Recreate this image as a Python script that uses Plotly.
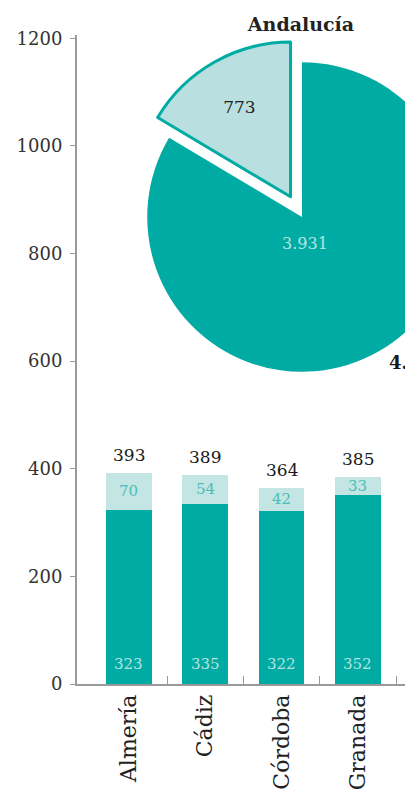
import plotly.graph_objects as go

# ---- data ----
provincias = ["Almería", "Cádiz", "Córdoba", "Granada"]
base_vals = [323, 335, 322, 352]
extra_vals = [70, 54, 42, 33]
pie_labels = ["Resto", "Destacado"]
pie_vals = [3931, 773]
y_ticks = [0, 200, 400, 600, 800, 1000, 1200]
titulo = "Andalucía"

DARK = "#00aba3"
LIGHT_BAR = "#c3e5e4"
LIGHT_PIE = "#b9dfe0"
SERIF = "DejaVu Serif"

W, H = 490, 791
L, T, B, R = 77, 35, 107, 0
PW, PH = W - L - R, H - T - B
XR = [-0.681, -0.681 + PW / 76.3]

def fmt(n):
    return f"{n:,}".replace(",", ".")

fig = go.Figure()

fig.add_trace(go.Bar(
    x=provincias, y=base_vals, marker=dict(color=DARK, line=dict(width=0)),
    hoverinfo="skip", showlegend=False,
))
fig.add_trace(go.Bar(
    x=provincias, y=extra_vals, marker=dict(color=LIGHT_BAR, line=dict(width=0)),
    hoverinfo="skip", showlegend=False,
))
# invisible helper trace for the separator ticks between categories
fig.add_trace(go.Scatter(x=[XR[0]], y=[0], xaxis="x2", mode="markers",
                         marker=dict(opacity=0), hoverinfo="skip", showlegend=False))

fig.add_trace(go.Pie(
    labels=pie_labels, values=pie_vals, sort=False, direction="clockwise", rotation=0,
    pull=[0, 0.15],
    marker=dict(colors=[DARK, LIGHT_PIE], line=dict(color=[DARK, DARK], width=[0, 3])),
    texttemplate=["", fmt(pie_vals[1])], textinfo="text",
    textposition="inside", insidetextorientation="horizontal",
    textfont=dict(family=SERIF, size=17, color="#222222"),
    domain=dict(x=[0.1138, 0.9758], y=[0.4453, 0.9938]),
    showlegend=False, hoverinfo="skip",
))

annotations = []
for p, b, e in zip(provincias, base_vals, extra_vals):
    tot = b + e
    annotations.append(dict(x=p, y=tot, xref="x", yref="y", text=str(tot), showarrow=False,
                            yanchor="bottom", yshift=6,
                            font=dict(family=SERIF, size=17, color="#1a1a1a")))
    annotations.append(dict(x=p, y=b + e / 2, xref="x", yref="y", text=str(e), showarrow=False,
                            yanchor="middle",
                            font=dict(family=SERIF, size=15, color="#4dbdb6")))
    annotations.append(dict(x=p, y=0, xref="x", yref="y", text=str(b), showarrow=False,
                            yanchor="bottom", yshift=9,
                            font=dict(family=SERIF, size=15, color="#b5e3df")))

# label of the large slice, just below the pie centre
annotations.append(dict(x=(305 - L) / PW, y=(H - B - 243) / PH,
                        xref="paper", yref="paper", xanchor="center", yanchor="middle",
                        text=fmt(pie_vals[0]), showarrow=False,
                        font=dict(family=SERIF, size=16, color="#b8e4e0")))
# total of the pie (partly outside the visible frame, as in the original)
annotations.append(dict(x=(387 - L) / PW, y=(H - B - 362) / PH,
                        xref="paper", yref="paper", xanchor="left", yanchor="middle",
                        text=fmt(sum(pie_vals)), showarrow=False,
                        font=dict(family=SERIF, size=18, color="#1a1a1a", weight=700)))

sep_ticks = [i + 0.5 for i in range(len(provincias))]

fig.update_layout(
    width=W, height=H,
    margin=dict(l=L, r=R, t=T, b=B, pad=0),
    paper_bgcolor="white", plot_bgcolor="white",
    barmode="stack", bargap=0.4,
    separators=",.",
    title=dict(text=titulo, x=301 / W, xanchor="center", xref="container",
               y=1 - 24 / H, yanchor="middle", yref="container",
               font=dict(family=SERIF, size=19, color="#222222", weight=700)),
    annotations=annotations,
    xaxis=dict(
        type="category", range=XR,
        showline=True, linecolor="#9a9a9a", linewidth=1.5,
        ticks="",
        tickangle=-90, tickfont=dict(family=SERIF, size=22, color="#222222"),
        showgrid=False, zeroline=False, fixedrange=True,
    ),
    xaxis2=dict(
        overlaying="x", anchor="y", side="bottom", range=XR,
        tickvals=sep_ticks, showticklabels=False,
        ticks="inside", ticklen=8, tickcolor="#9a9a9a", tickwidth=1,
        showline=False, showgrid=False, zeroline=False, fixedrange=True,
    ),
    yaxis=dict(
        range=[0, 1206], tickvals=y_ticks, ticktext=[str(v) for v in y_ticks],
        showline=True, linecolor="#9a9a9a", linewidth=2,
        ticks="outside", ticklen=5, tickcolor="#9a9a9a", tickwidth=1,
        ticklabelstandoff=4,
        tickfont=dict(family=SERIF, size=18, color="#333333"),
        showgrid=False, zeroline=False, fixedrange=True,
    ),
)

fig.write_html("out.html", config={"displayModeBar": False},
               post_script="document.body.style.margin='0';document.body.style.overflow='hidden';"
                           "document.documentElement.style.overflow='hidden';")
